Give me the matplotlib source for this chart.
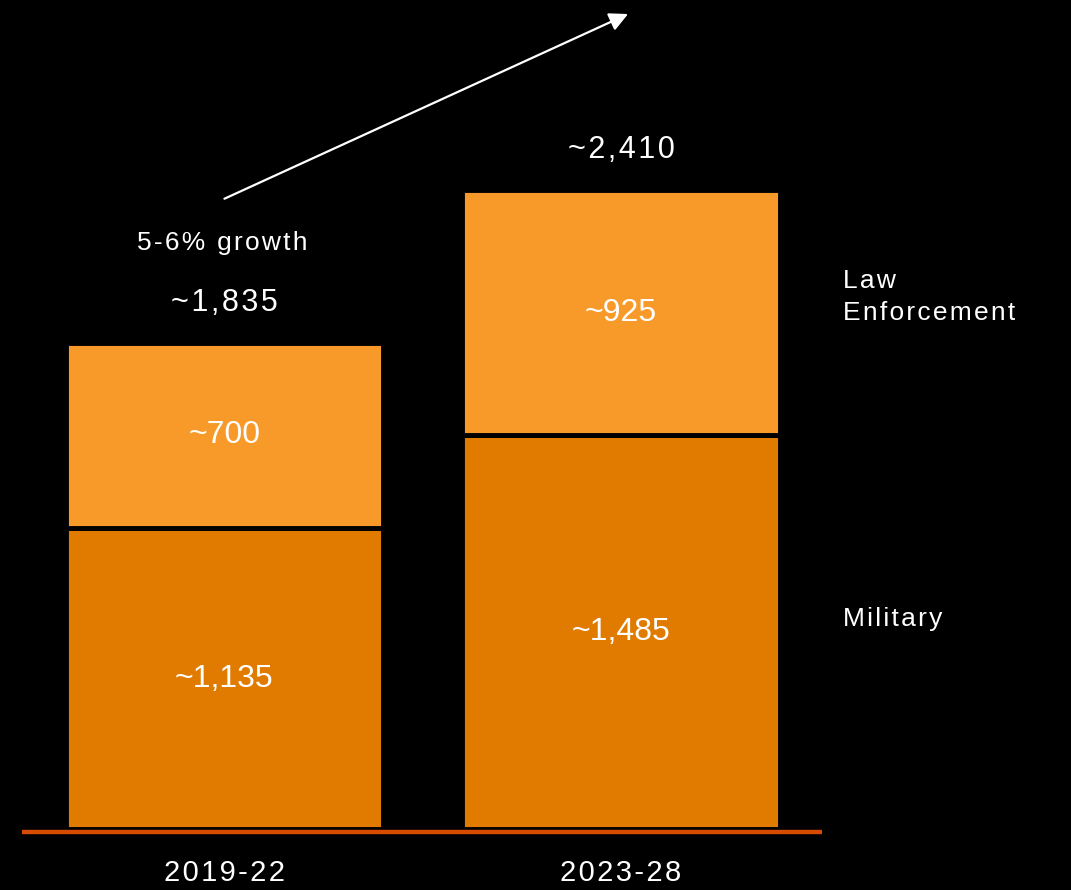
import matplotlib
matplotlib.use("Agg")
import matplotlib.pyplot as plt

# data
periods = ["2019-22", "2023-28"]
military = [1135, 1485]
law_enforcement = [700, 925]
totals = [1835, 2410]
segment_names = ["Law\nEnforcement", "Military"]
growth_text = "5-6% growth"

MIL_COLOR = "#E07B00"
LE_COLOR = "#F89A2A"
LINE_COLOR = "#D64B00"
FONT = ["Liberation Sans", "DejaVu Sans"]
HS = "\u200a"  # hair space, to fake the wide letter spacing


def spaced(s):
    return HS.join(s)


def fmt(v):
    return "~" + format(v, ",")


fig = plt.figure(figsize=(10.71, 8.9), dpi=100, facecolor="black")
ax = fig.add_axes([0, 0, 1, 1])
ax.set_facecolor("black")
ax.axis("off")

px_per_unit = 0.265
ax.set_xlim(-0.566, 2.135)
ax.set_ylim(-61 / px_per_unit, 829 / px_per_unit)

x = list(range(len(periods)))
ax.bar(x, military, width=0.80, color=MIL_COLOR, edgecolor="black", linewidth=3.5)
ax.bar(x, law_enforcement, bottom=military, width=0.80, color=LE_COLOR,
       edgecolor="black", linewidth=3.5)

# baseline
ax.plot([-0.511, 1.507], [-11, -11], color=LINE_COLOR, lw=3.2, solid_capstyle="butt")

for i in x:
    ax.text(i, military[i] / 2, fmt(military[i]), ha="center", va="center",
            color="white", fontsize=23, family=FONT)
    ax.text(i, military[i] + law_enforcement[i] / 2, fmt(law_enforcement[i]),
            ha="center", va="center", color="white", fontsize=23, family=FONT)
    ax.text(i, totals[i] + 40 / px_per_unit, spaced(fmt(totals[i])), ha="center",
            va="center", color="white", fontsize=22, family=FONT)
    ax.text(i, -44 / px_per_unit, spaced(periods[i]), ha="center", va="center",
            color="white", fontsize=21, family=FONT)

# segment names at the right of the last bar
last = x[-1]
ax.text(1.56, military[last] + law_enforcement[last] / 2 + 16 / px_per_unit,
        "\n".join(spaced(w) for w in segment_names[0].split("\n")),
        ha="left", va="center", color="white", fontsize=19, family=FONT,
        linespacing=1.45)
ax.text(1.56, military[last] / 2 + 13 / px_per_unit, spaced(segment_names[1]),
        ha="left", va="center", color="white", fontsize=19, family=FONT)

# growth note and arrow
growth_y = totals[0] + 100 / px_per_unit
ax.text(-0.005, growth_y, spaced(growth_text), ha="center", va="center",
        color="white", fontsize=19, family=FONT)
ax.annotate("", xy=(1.018, 815 / px_per_unit),
            xytext=(0.0, growth_y + 44 / px_per_unit),
            arrowprops=dict(arrowstyle="-|>", color="white", lw=1.6,
                            mutation_scale=28, shrinkA=0, shrinkB=0))

fig.savefig("out.png", dpi=100, facecolor="black")
